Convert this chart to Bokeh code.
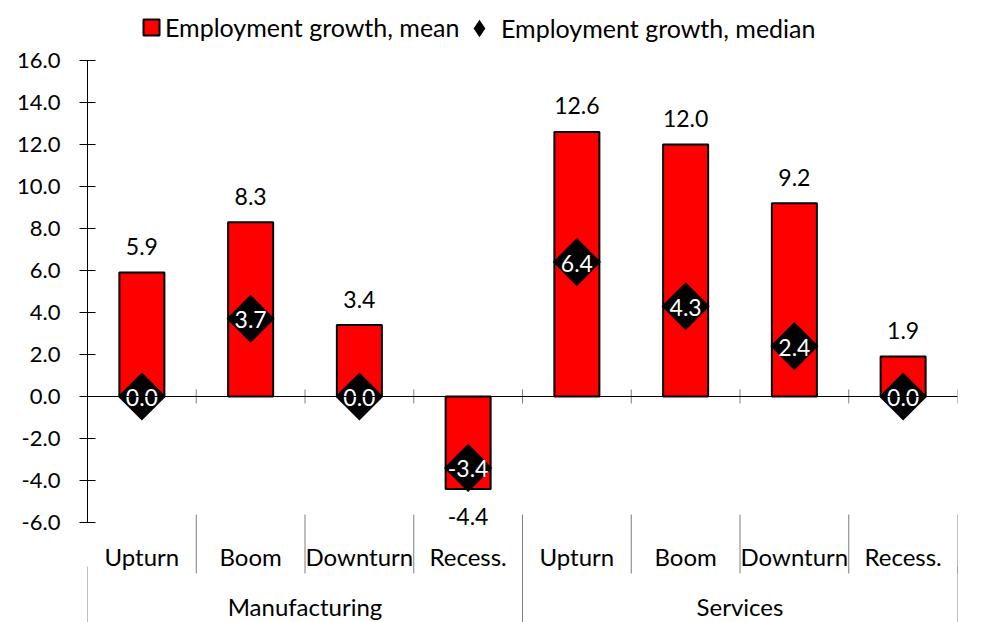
import math
from bokeh.plotting import figure
from bokeh.models import (Range1d, LinearAxis, FixedTicker, Span, ColumnDataSource,
                          Legend, LegendItem)
from bokeh.core.properties import value
from bokeh.embed import file_html
from bokeh.resources import INLINE

# ---------------- data ----------------
groups = ["Manufacturing", "Services"]
phases = ["Upturn", "Boom", "Downturn", "Recess.", "Upturn", "Boom", "Downturn", "Recess."]
mean_growth = [5.9, 8.3, 3.4, -4.4, 12.6, 12.0, 9.2, 1.9]
median_growth = [0.0, 3.7, 0.0, -3.4, 6.4, 4.3, 2.4, 0.0]
y_ticks = [-6, -4, -2, 0, 2, 4, 6, 8, 10, 12, 14, 16]
series_names = ["Employment growth, mean", "Employment growth, median"]

FONT = "Lato"
FS_TICK = "22px"
FS_VAL = "23px"
FS_CAT = "24px"
FS_LEG = "25px"

n = len(phases)
per_group = n // len(groups)
centers = [i + 0.5 for i in range(n)]
group_centers = [g * per_group + per_group / 2 for g in range(len(groups))]

W, H = 984, 622
# geometry (px): zero line at y=396, 21 px per unit, frame spans full height
PX = 21.0
y_top = 396 / PX
y_bot = -(H - 396) / PX

def ypix(page_y):
    return (396 - page_y) / PX

p = figure(width=W, height=H, output_backend="svg", toolbar_location=None,
           x_range=Range1d(0, n), y_range=Range1d(y_bot, y_top),
           x_axis_location=None, y_axis_location=None,
           min_border_left=87, min_border_right=27, min_border_top=0, min_border_bottom=0)
p.outline_line_color = None
p.grid.visible = False
p.background_fill_color = "white"
p.border_fill_color = "white"

yaxis = LinearAxis(bounds=(y_ticks[0], y_ticks[-1]),
                   ticker=FixedTicker(ticks=y_ticks, minor_ticks=[]),
                   major_label_overrides={t: f"{t:.1f}" for t in y_ticks})
yaxis.axis_line_color = "black"
yaxis.axis_line_width = 1
yaxis.major_tick_in = 8
yaxis.major_tick_out = 8
yaxis.major_tick_line_color = "black"
yaxis.minor_tick_line_color = None
yaxis.major_label_standoff = 19
yaxis.major_label_text_font = FONT
yaxis.major_label_text_font_size = FS_TICK
yaxis.major_label_text_color = "black"
p.add_layout(yaxis, "left")

src = ColumnDataSource(dict(x=centers, mean=mean_growth, median=median_growth,
                            mean_lbl=[f"{v:.1f}" for v in mean_growth],
                            med_lbl=[f"{v:.1f}" for v in median_growth],
                            off=[-26 if v >= 0 else 28 for v in mean_growth]))

# bars (mean)
bars = p.vbar(x="x", top="mean", bottom=0, width=0.414, source=src,
              fill_color="#FF0000", line_color="black", line_width=2)

# zero line + crossing ticks at category boundaries
p.add_layout(Span(location=0, dimension="width", line_color="black", line_width=1))
bounds_x = list(range(1, n + 1))
p.segment(x0=bounds_x, x1=bounds_x, y0=[-7 / PX] * n, y1=[7 / PX] * n,
          line_color="#7f7f7f", line_width=1)

# diamonds (median)
dia = p.scatter(x="x", y="median", source=src, marker="square", angle=math.pi / 4,
                size=34, fill_color="black", line_color=None)
# legend proxy for the diamond symbol (no visible points)
dia_leg = p.scatter(x=[float("nan")], y=[float("nan")], marker="diamond", size=20,
                    fill_color="black", line_color=None)

# value labels
p.text(x="x", y="mean", text="mean_lbl", source=src, y_offset="off",
       text_align="center", text_baseline="middle", text_font=value(FONT),
       text_font_size=FS_VAL, text_color="black")
p.text(x="x", y="median", text="med_lbl", source=src, y_offset=1,
       text_align="center", text_baseline="middle", text_font=value(FONT),
       text_font_size=FS_VAL, text_color="white")

# category axis area
p.segment(x0=bounds_x, x1=bounds_x, y0=[ypix(514)] * n, y1=[ypix(573)] * n,
          line_color="#7f7f7f", line_width=1)
gb = [g * per_group for g in range(len(groups) + 1)]
p.segment(x0=gb, x1=gb, y0=[ypix(566)] * len(gb), y1=[ypix(640)] * len(gb),
          line_color="#7f7f7f", line_width=1)
p.text(x=centers, y=[ypix(556)] * n, text=phases, text_align="center",
       text_baseline="middle", text_font=value(FONT), text_font_size=FS_CAT, text_color="black")
p.text(x=group_centers, y=[ypix(606)] * len(groups), text=groups, text_align="center",
       text_baseline="middle", text_font=value(FONT), text_font_size=FS_CAT, text_color="black")

# legends
def mk_legend(item, gw, gh, x, y, standoff, lh=20):
    lg = Legend(items=[item], location=(x, y), orientation="horizontal",
                glyph_width=gw, glyph_height=gh, label_standoff=standoff,
                label_height=lh,
                padding=0, margin=0, spacing=0,
                border_line_color=None, background_fill_alpha=0,
                label_text_font=FONT, label_text_font_size=FS_LEG, label_text_color="black")
    p.add_layout(lg, "center")
    return lg

mk_legend(LegendItem(label=series_names[0], renderers=[bars]), 20, 20, 143 - 87 - 2, H - 42, 4)
mk_legend(LegendItem(label=series_names[1], renderers=[dia_leg]), 44, 48, 457 - 87, H - 52, 0, lh=48)

open("out.html", "w").write(file_html(p, INLINE))
